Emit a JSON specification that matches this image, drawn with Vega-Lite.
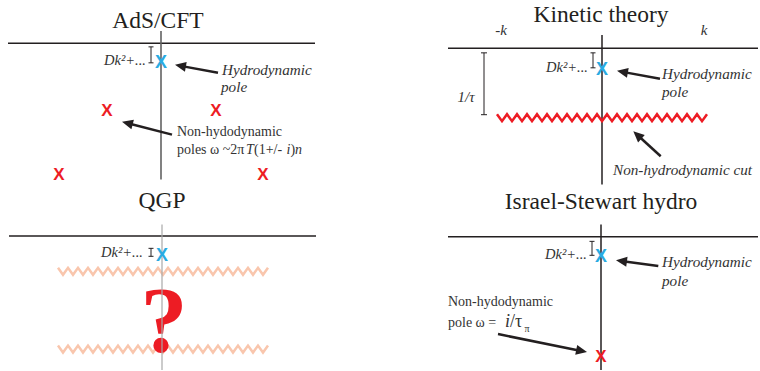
{
  "$schema": "https://vega.github.io/schema/vega-lite/v6.json",
  "width": 760,
  "height": 371,
  "autosize": {"type": "fit", "contains": "padding"},
  "padding": 0,
  "background": "white",
  "config": {"view": {"stroke": null}},
  "datasets": {
    "lines": [
      {"kind": "black", "x": 8, "y": 43.3, "x2": 315, "y2": 43.3},
      {"kind": "gray", "x": 161, "y": 31, "x2": 161, "y2": 180},
      {"kind": "black", "x": 448, "y": 48.3, "x2": 758, "y2": 48.3},
      {"kind": "black", "x": 602, "y": 35, "x2": 602, "y2": 185},
      {"kind": "black", "x": 9, "y": 236.7, "x2": 316, "y2": 236.7},
      {"kind": "light", "x": 162, "y": 225, "x2": 162, "y2": 371},
      {"kind": "black", "x": 448, "y": 237.3, "x2": 758, "y2": 237.3},
      {"kind": "black", "x": 601, "y": 225, "x2": 601, "y2": 371}
    ],
    "bars": [
      {"x": 151, "y": 47, "x2": 151, "y2": 63},
      {"x": 148.5, "y": 47, "x2": 153.5, "y2": 47},
      {"x": 148.5, "y": 63, "x2": 153.5, "y2": 63},
      {"x": 593, "y": 53, "x2": 593, "y2": 68},
      {"x": 590.5, "y": 53, "x2": 595.5, "y2": 53},
      {"x": 590.5, "y": 68, "x2": 595.5, "y2": 68},
      {"x": 484, "y": 53, "x2": 484, "y2": 115},
      {"x": 481, "y": 53, "x2": 487, "y2": 53},
      {"x": 481, "y": 115, "x2": 487, "y2": 115},
      {"x": 151, "y": 249, "x2": 151, "y2": 257},
      {"x": 148.5, "y": 249, "x2": 153.5, "y2": 249},
      {"x": 148.5, "y": 257, "x2": 153.5, "y2": 257},
      {"x": 592, "y": 242, "x2": 592, "y2": 256},
      {"x": 589.5, "y": 242, "x2": 594.5, "y2": 242},
      {"x": 589.5, "y": 256, "x2": 594.5, "y2": 256}
    ],
    "arrows": [
      {"x": 218, "y": 73, "xe": 181.9, "ye": 66.3, "xt": 175, "yt": 65, "a": 190.5},
      {"x": 172, "y": 135, "xe": 128.8, "ye": 123.8, "xt": 122, "yt": 122, "a": 194.6},
      {"x": 660, "y": 79, "xe": 623.9, "ye": 72.3, "xt": 617, "yt": 71, "a": 190.5},
      {"x": 660.7, "y": 156.7, "xe": 638.5, "ye": 136.4, "xt": 633.3, "yt": 131.7, "a": 222.4},
      {"x": 658.3, "y": 266.7, "xe": 622.9, "ye": 261.9, "xt": 616, "yt": 261, "a": 187.7},
      {"x": 498, "y": 335, "xe": 580.1, "ye": 351.6, "xt": 587, "yt": 353, "a": 11.4}
    ],
    "qgpzig": [
      {"z": "q1", "x": 58, "y": 268.5}, {"z": "q1", "x": 63, "y": 275.5}, {"z": "q1", "x": 68, "y": 268.5}, {"z": "q1", "x": 73, "y": 275.5},
      {"z": "q1", "x": 78, "y": 268.5}, {"z": "q1", "x": 83, "y": 275.5}, {"z": "q1", "x": 88, "y": 268.5}, {"z": "q1", "x": 93, "y": 275.5},
      {"z": "q1", "x": 98, "y": 268.5}, {"z": "q1", "x": 103, "y": 275.5}, {"z": "q1", "x": 108, "y": 268.5}, {"z": "q1", "x": 113, "y": 275.5},
      {"z": "q1", "x": 118, "y": 268.5}, {"z": "q1", "x": 123, "y": 275.5}, {"z": "q1", "x": 128, "y": 268.5}, {"z": "q1", "x": 133, "y": 275.5},
      {"z": "q1", "x": 138, "y": 268.5}, {"z": "q1", "x": 143, "y": 275.5}, {"z": "q1", "x": 148, "y": 268.5}, {"z": "q1", "x": 153, "y": 275.5},
      {"z": "q1", "x": 158, "y": 268.5}, {"z": "q1", "x": 163, "y": 275.5}, {"z": "q1", "x": 168, "y": 268.5}, {"z": "q1", "x": 173, "y": 275.5},
      {"z": "q1", "x": 178, "y": 268.5}, {"z": "q1", "x": 183, "y": 275.5}, {"z": "q1", "x": 188, "y": 268.5}, {"z": "q1", "x": 193, "y": 275.5},
      {"z": "q1", "x": 198, "y": 268.5}, {"z": "q1", "x": 203, "y": 275.5}, {"z": "q1", "x": 208, "y": 268.5}, {"z": "q1", "x": 213, "y": 275.5},
      {"z": "q1", "x": 218, "y": 268.5}, {"z": "q1", "x": 223, "y": 275.5}, {"z": "q1", "x": 228, "y": 268.5}, {"z": "q1", "x": 233, "y": 275.5},
      {"z": "q1", "x": 238, "y": 268.5}, {"z": "q1", "x": 243, "y": 275.5}, {"z": "q1", "x": 248, "y": 268.5}, {"z": "q1", "x": 253, "y": 275.5},
      {"z": "q1", "x": 258, "y": 268.5}, {"z": "q1", "x": 263, "y": 275.5}, {"z": "q1", "x": 268, "y": 268.5},
      {"z": "q2", "x": 58, "y": 346.5}, {"z": "q2", "x": 63, "y": 353.5}, {"z": "q2", "x": 68, "y": 346.5}, {"z": "q2", "x": 73, "y": 353.5},
      {"z": "q2", "x": 78, "y": 346.5}, {"z": "q2", "x": 83, "y": 353.5}, {"z": "q2", "x": 88, "y": 346.5}, {"z": "q2", "x": 93, "y": 353.5},
      {"z": "q2", "x": 98, "y": 346.5}, {"z": "q2", "x": 103, "y": 353.5}, {"z": "q2", "x": 108, "y": 346.5}, {"z": "q2", "x": 113, "y": 353.5},
      {"z": "q2", "x": 118, "y": 346.5}, {"z": "q2", "x": 123, "y": 353.5}, {"z": "q2", "x": 128, "y": 346.5}, {"z": "q2", "x": 133, "y": 353.5},
      {"z": "q2", "x": 138, "y": 346.5}, {"z": "q2", "x": 143, "y": 353.5}, {"z": "q2", "x": 148, "y": 346.5}, {"z": "q2", "x": 153, "y": 353.5},
      {"z": "q2", "x": 158, "y": 346.5}, {"z": "q2", "x": 163, "y": 353.5}, {"z": "q2", "x": 168, "y": 346.5}, {"z": "q2", "x": 173, "y": 353.5},
      {"z": "q2", "x": 178, "y": 346.5}, {"z": "q2", "x": 183, "y": 353.5}, {"z": "q2", "x": 188, "y": 346.5}, {"z": "q2", "x": 193, "y": 353.5},
      {"z": "q2", "x": 198, "y": 346.5}, {"z": "q2", "x": 203, "y": 353.5}, {"z": "q2", "x": 208, "y": 346.5}, {"z": "q2", "x": 213, "y": 353.5},
      {"z": "q2", "x": 218, "y": 346.5}, {"z": "q2", "x": 223, "y": 353.5}, {"z": "q2", "x": 228, "y": 346.5}, {"z": "q2", "x": 233, "y": 353.5},
      {"z": "q2", "x": 238, "y": 346.5}, {"z": "q2", "x": 243, "y": 353.5}, {"z": "q2", "x": 248, "y": 346.5}, {"z": "q2", "x": 253, "y": 353.5},
      {"z": "q2", "x": 258, "y": 346.5}, {"z": "q2", "x": 263, "y": 353.5}, {"z": "q2", "x": 268, "y": 346.5}
    ],
    "cutzig": [
      {"x": 497, "y": 114.5}, {"x": 502, "y": 121.5}, {"x": 507, "y": 114.5}, {"x": 512, "y": 121.5},
      {"x": 517, "y": 114.5}, {"x": 522, "y": 121.5}, {"x": 527, "y": 114.5}, {"x": 532, "y": 121.5},
      {"x": 537, "y": 114.5}, {"x": 542, "y": 121.5}, {"x": 547, "y": 114.5}, {"x": 552, "y": 121.5},
      {"x": 557, "y": 114.5}, {"x": 562, "y": 121.5}, {"x": 567, "y": 114.5}, {"x": 572, "y": 121.5},
      {"x": 577, "y": 114.5}, {"x": 582, "y": 121.5}, {"x": 587, "y": 114.5}, {"x": 592, "y": 121.5},
      {"x": 597, "y": 114.5}, {"x": 602, "y": 121.5}, {"x": 607, "y": 114.5}, {"x": 612, "y": 121.5},
      {"x": 617, "y": 114.5}, {"x": 622, "y": 121.5}, {"x": 627, "y": 114.5}, {"x": 632, "y": 121.5},
      {"x": 637, "y": 114.5}, {"x": 642, "y": 121.5}, {"x": 647, "y": 114.5}, {"x": 652, "y": 121.5},
      {"x": 657, "y": 114.5}, {"x": 662, "y": 121.5}, {"x": 667, "y": 114.5}, {"x": 672, "y": 121.5},
      {"x": 677, "y": 114.5}, {"x": 682, "y": 121.5}, {"x": 687, "y": 114.5}, {"x": 692, "y": 121.5},
      {"x": 697, "y": 114.5}, {"x": 702, "y": 121.5}, {"x": 707, "y": 114.5}
    ],
    "poles": [
      {"type": "hydro", "x": 161, "y": 63},
      {"type": "hydro", "x": 602, "y": 70},
      {"type": "hydro", "x": 162, "y": 257},
      {"type": "hydro", "x": 601, "y": 258},
      {"type": "non", "x": 107, "y": 111},
      {"type": "non", "x": 216, "y": 111},
      {"type": "non", "x": 59, "y": 175},
      {"type": "non", "x": 263, "y": 175},
      {"type": "non", "x": 601, "y": 358}
    ],
    "texts": [
      {"role": "title", "t": "AdS/CFT", "x": 158, "y": 28},
      {"role": "title", "t": "Kinetic theory", "x": 601, "y": 22},
      {"role": "title", "t": "QGP", "x": 162, "y": 209},
      {"role": "title", "t": "Israel-Stewart hydro", "x": 601, "y": 210},
      {"role": "label", "t": "Hydrodynamic", "x": 222, "y": 75},
      {"role": "label", "t": "pole", "x": 221, "y": 92},
      {"role": "label", "t": "Hydrodynamic", "x": 662, "y": 79},
      {"role": "label", "t": "pole", "x": 662, "y": 97},
      {"role": "label", "t": "Non-hydrodynamic cut", "x": 613, "y": 175},
      {"role": "label", "t": "Hydrodynamic", "x": 662, "y": 268},
      {"role": "label", "t": "pole", "x": 662, "y": 287},
      {"role": "note", "t": "Non-hydodynamic", "x": 177, "y": 136},
      {"role": "note", "t": "poles ω ~2π", "x": 177, "y": 154},
      {"role": "noteit", "t": "T", "x": 246, "y": 154},
      {"role": "note", "t": "(1+/-", "x": 254, "y": 154},
      {"role": "noteit", "t": "i", "x": 286.5, "y": 154},
      {"role": "note", "t": ")", "x": 290.5, "y": 154},
      {"role": "noteit", "t": "n", "x": 295, "y": 154},
      {"role": "note", "t": "Non-hydodynamic", "x": 448, "y": 307},
      {"role": "note", "t": "pole ω =", "x": 448, "y": 328},
      {"role": "bigit", "t": "i", "x": 505, "y": 328},
      {"role": "big", "t": "/τ", "x": 510, "y": 328},
      {"role": "sub", "t": "π", "x": 524.5, "y": 333},
      {"role": "dk", "t": "Dk²+...", "x": 146, "y": 65},
      {"role": "dk", "t": "Dk²+...", "x": 588, "y": 72},
      {"role": "dk", "t": "Dk²+...", "x": 143, "y": 258},
      {"role": "dk", "t": "Dk²+...", "x": 587, "y": 260},
      {"role": "axis", "t": "-k", "x": 501, "y": 35},
      {"role": "axis", "t": "k", "x": 704, "y": 35},
      {"role": "axis", "t": "1/τ", "x": 466, "y": 102},
      {"role": "q", "t": "?", "x": 164, "y": 352}
    ]
  },
  "layer": [
    {
      "data": {"name": "qgpzig"},
      "mark": {"type": "line", "strokeWidth": 2.5, "color": "#f9c6ad", "strokeJoin": "miter"},
      "encoding": {
        "x": {"field": "x", "type": "quantitative", "scale": {"domain": [0, 760], "nice": false, "zero": false}, "axis": null},
        "y": {"field": "y", "type": "quantitative", "scale": {"domain": [0, 371], "nice": false, "zero": false, "reverse": true}, "axis": null},
        "detail": {"field": "z"}
      }
    },
    {
      "data": {"name": "texts"},
      "transform": [{"filter": "datum.role === 'q'"}],
      "mark": {"type": "text", "font": "'Liberation Serif', 'Times New Roman', serif", "fontWeight": "bold", "fontSize": 94, "align": "center", "baseline": "alphabetic", "color": "#ed1c24"},
      "encoding": {
        "x": {"field": "x", "type": "quantitative", "axis": null},
        "y": {"field": "y", "type": "quantitative", "axis": null},
        "text": {"field": "t"}
      }
    },
    {
      "data": {"name": "lines"},
      "transform": [{"filter": "datum.kind === 'black'"}],
      "mark": {"type": "rule", "strokeWidth": 1.5, "strokeCap": "butt", "color": "#231f20"},
      "encoding": {
        "x": {"field": "x", "type": "quantitative", "axis": null},
        "y": {"field": "y", "type": "quantitative", "axis": null},
        "x2": {"field": "x2"},
        "y2": {"field": "y2"}
      }
    },
    {
      "data": {"name": "lines"},
      "transform": [{"filter": "datum.kind === 'gray'"}],
      "mark": {"type": "rule", "strokeWidth": 1.6, "strokeCap": "butt", "color": "#626262"},
      "encoding": {
        "x": {"field": "x", "type": "quantitative", "axis": null},
        "y": {"field": "y", "type": "quantitative", "axis": null},
        "x2": {"field": "x2"},
        "y2": {"field": "y2"}
      }
    },
    {
      "data": {"name": "lines"},
      "transform": [{"filter": "datum.kind === 'light'"}],
      "mark": {"type": "rule", "strokeWidth": 1.2, "strokeCap": "butt", "color": "#a8a8a8"},
      "encoding": {
        "x": {"field": "x", "type": "quantitative", "axis": null},
        "y": {"field": "y", "type": "quantitative", "axis": null},
        "x2": {"field": "x2"},
        "y2": {"field": "y2"}
      }
    },
    {
      "data": {"name": "bars"},
      "mark": {"type": "rule", "strokeWidth": 1, "color": "#231f20", "strokeCap": "butt"},
      "encoding": {
        "x": {"field": "x", "type": "quantitative", "axis": null},
        "y": {"field": "y", "type": "quantitative", "axis": null},
        "x2": {"field": "x2"},
        "y2": {"field": "y2"}
      }
    },
    {
      "data": {"name": "cutzig"},
      "mark": {"type": "line", "strokeWidth": 2.5, "color": "#ed1c24", "strokeJoin": "miter"},
      "encoding": {
        "x": {"field": "x", "type": "quantitative", "axis": null},
        "y": {"field": "y", "type": "quantitative", "axis": null}
      }
    },
    {
      "data": {"name": "arrows"},
      "mark": {"type": "rule", "strokeWidth": 2.5, "color": "#231f20", "strokeCap": "butt"},
      "encoding": {
        "x": {"field": "x", "type": "quantitative", "axis": null},
        "y": {"field": "y", "type": "quantitative", "axis": null},
        "x2": {"field": "xe"},
        "y2": {"field": "ye"}
      }
    },
    {
      "data": {"name": "arrows"},
      "mark": {"type": "point", "shape": "M0,0L-1,-0.45L-1,0.45Z", "size": 484, "filled": true, "color": "#231f20", "opacity": 1, "strokeWidth": 0},
      "encoding": {
        "x": {"field": "xt", "type": "quantitative", "axis": null},
        "y": {"field": "yt", "type": "quantitative", "axis": null},
        "angle": {"field": "a", "type": "quantitative", "scale": null}
      }
    },
    {
      "data": {"name": "poles"},
      "transform": [{"filter": "datum.type === 'hydro'"}],
      "mark": {"type": "text", "font": "'Liberation Sans', Arial, sans-serif", "fontWeight": "bold", "fontSize": 18, "align": "center", "baseline": "middle", "color": "#29abe2"},
      "encoding": {
        "x": {"field": "x", "type": "quantitative", "axis": null},
        "y": {"field": "y", "type": "quantitative", "axis": null},
        "text": {"value": "X"}
      }
    },
    {
      "data": {"name": "poles"},
      "transform": [{"filter": "datum.type === 'non'"}],
      "mark": {"type": "text", "font": "'Liberation Sans', Arial, sans-serif", "fontWeight": "bold", "fontSize": 17, "align": "center", "baseline": "middle", "color": "#ed1c24"},
      "encoding": {
        "x": {"field": "x", "type": "quantitative", "axis": null},
        "y": {"field": "y", "type": "quantitative", "axis": null},
        "text": {"value": "X"}
      }
    },
    {
      "data": {"name": "texts"},
      "transform": [{"filter": "datum.role === 'title'"}],
      "mark": {"type": "text", "font": "'Liberation Serif', 'Times New Roman', serif", "fontSize": 23.5, "align": "center", "baseline": "alphabetic", "color": "#231f20"},
      "encoding": {
        "x": {"field": "x", "type": "quantitative", "axis": null},
        "y": {"field": "y", "type": "quantitative", "axis": null},
        "text": {"field": "t"}
      }
    },
    {
      "data": {"name": "texts"},
      "transform": [{"filter": "datum.role === 'label'"}],
      "mark": {"type": "text", "font": "'Liberation Serif', 'Times New Roman', serif", "fontStyle": "italic", "fontSize": 15.2, "align": "left", "baseline": "alphabetic", "color": "#333333"},
      "encoding": {
        "x": {"field": "x", "type": "quantitative", "axis": null},
        "y": {"field": "y", "type": "quantitative", "axis": null},
        "text": {"field": "t"}
      }
    },
    {
      "data": {"name": "texts"},
      "transform": [{"filter": "datum.role === 'note'"}],
      "mark": {"type": "text", "font": "'Liberation Serif', 'Times New Roman', serif", "fontSize": 14, "align": "left", "baseline": "alphabetic", "color": "#333333"},
      "encoding": {
        "x": {"field": "x", "type": "quantitative", "axis": null},
        "y": {"field": "y", "type": "quantitative", "axis": null},
        "text": {"field": "t"}
      }
    },
    {
      "data": {"name": "texts"},
      "transform": [{"filter": "datum.role === 'noteit'"}],
      "mark": {"type": "text", "font": "'Liberation Serif', 'Times New Roman', serif", "fontStyle": "italic", "fontSize": 14, "align": "left", "baseline": "alphabetic", "color": "#333333"},
      "encoding": {
        "x": {"field": "x", "type": "quantitative", "axis": null},
        "y": {"field": "y", "type": "quantitative", "axis": null},
        "text": {"field": "t"}
      }
    },
    {
      "data": {"name": "texts"},
      "transform": [{"filter": "datum.role === 'bigit'"}],
      "mark": {"type": "text", "font": "'Liberation Serif', 'Times New Roman', serif", "fontStyle": "italic", "fontSize": 18, "align": "left", "baseline": "alphabetic", "color": "#333333"},
      "encoding": {
        "x": {"field": "x", "type": "quantitative", "axis": null},
        "y": {"field": "y", "type": "quantitative", "axis": null},
        "text": {"field": "t"}
      }
    },
    {
      "data": {"name": "texts"},
      "transform": [{"filter": "datum.role === 'big'"}],
      "mark": {"type": "text", "font": "'Liberation Serif', 'Times New Roman', serif", "fontSize": 18, "align": "left", "baseline": "alphabetic", "color": "#333333"},
      "encoding": {
        "x": {"field": "x", "type": "quantitative", "axis": null},
        "y": {"field": "y", "type": "quantitative", "axis": null},
        "text": {"field": "t"}
      }
    },
    {
      "data": {"name": "texts"},
      "transform": [{"filter": "datum.role === 'sub'"}],
      "mark": {"type": "text", "font": "'Liberation Serif', 'Times New Roman', serif", "fontSize": 10, "align": "left", "baseline": "alphabetic", "color": "#333333"},
      "encoding": {
        "x": {"field": "x", "type": "quantitative", "axis": null},
        "y": {"field": "y", "type": "quantitative", "axis": null},
        "text": {"field": "t"}
      }
    },
    {
      "data": {"name": "texts"},
      "transform": [{"filter": "datum.role === 'dk'"}],
      "mark": {"type": "text", "font": "'Liberation Serif', 'Times New Roman', serif", "fontStyle": "italic", "fontSize": 14.5, "align": "right", "baseline": "alphabetic", "color": "#333333"},
      "encoding": {
        "x": {"field": "x", "type": "quantitative", "axis": null},
        "y": {"field": "y", "type": "quantitative", "axis": null},
        "text": {"field": "t"}
      }
    },
    {
      "data": {"name": "texts"},
      "transform": [{"filter": "datum.role === 'axis'"}],
      "mark": {"type": "text", "font": "'Liberation Serif', 'Times New Roman', serif", "fontStyle": "italic", "fontSize": 15, "align": "center", "baseline": "alphabetic", "color": "#333333"},
      "encoding": {
        "x": {"field": "x", "type": "quantitative", "axis": null},
        "y": {"field": "y", "type": "quantitative", "axis": null},
        "text": {"field": "t"}
      }
    }
  ]
}
